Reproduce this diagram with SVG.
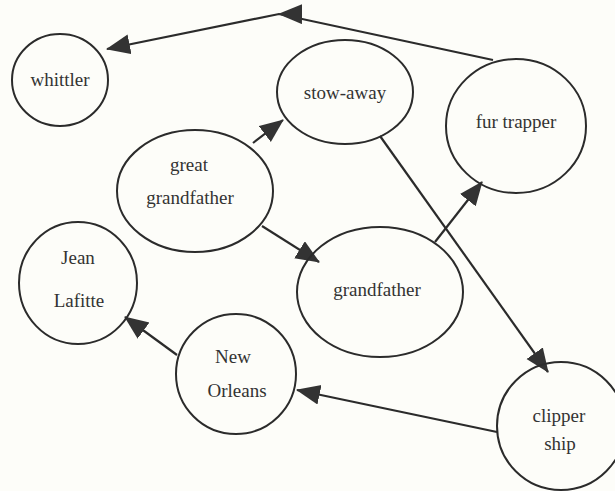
<svg xmlns="http://www.w3.org/2000/svg" width="615" height="491" viewBox="0 0 615 491">
<style>
  .node ellipse { fill: none; stroke: #2b2b2b; stroke-width: 2; }
  .node text { font-family: "Liberation Serif", "Times New Roman", serif; font-size: 19px; fill: #333; text-anchor: middle; }
  .edge { fill: none; stroke: #2b2b2b; stroke-width: 2.2; marker-end: url(#arrow); }
</style>
<defs>
  <marker id="arrow" markerUnits="userSpaceOnUse" markerWidth="26" markerHeight="22" refX="23" refY="10" orient="auto" viewBox="0 0 26 22">
    <path d="M0,0 L24,10 L0,20 z" fill="#333"/>
  </marker>
</defs>
<rect width="615" height="491" fill="#fdfdf9"/>

<g id="connectors">
  <path class="edge" d="M493,60 L279,14 L107,49" marker-mid="url(#arrow)"/>
  <path class="edge" d="M253,143 L283,120"/>
  <path class="edge" d="M262,226 L319,262"/>
  <path class="edge" d="M435,242 L482,182"/>
  <path class="edge" d="M380,136 L548,372"/>
  <path class="edge" d="M497,432 L297,390"/>
  <path class="edge" d="M177,355 L125,317"/>
</g>

<g id="whittler" class="node">
  <ellipse cx="60" cy="80" rx="48" ry="46"/>
  <text x="60" y="86">whittler</text>
</g>
<g id="stow-away" class="node">
  <ellipse cx="345" cy="92" rx="68" ry="52"/>
  <text x="345" y="99">stow-away</text>
</g>
<g id="fur-trapper" class="node">
  <ellipse cx="516" cy="126" rx="70" ry="67"/>
  <text x="516" y="128">fur trapper</text>
</g>
<g id="great-grandfather" class="node">
  <ellipse cx="195" cy="191" rx="78" ry="61"/>
  <text x="189" y="171">great</text>
  <text x="190" y="204">grandfather</text>
</g>
<g id="grandfather" class="node">
  <ellipse cx="380" cy="292" rx="83" ry="65"/>
  <text x="377" y="296">grandfather</text>
</g>
<g id="jean-lafitte" class="node">
  <ellipse cx="78" cy="283" rx="59" ry="61"/>
  <text x="78" y="264">Jean</text>
  <text x="79" y="307">Lafitte</text>
</g>
<g id="new-orleans" class="node">
  <ellipse cx="236" cy="374" rx="60" ry="60"/>
  <text x="233" y="363">New</text>
  <text x="237" y="397">Orleans</text>
</g>
<g id="clipper-ship" class="node">
  <ellipse cx="561" cy="426" rx="64" ry="64"/>
  <text x="559" y="422">clipper</text>
  <text x="560" y="450">ship</text>
</g>
</svg>
